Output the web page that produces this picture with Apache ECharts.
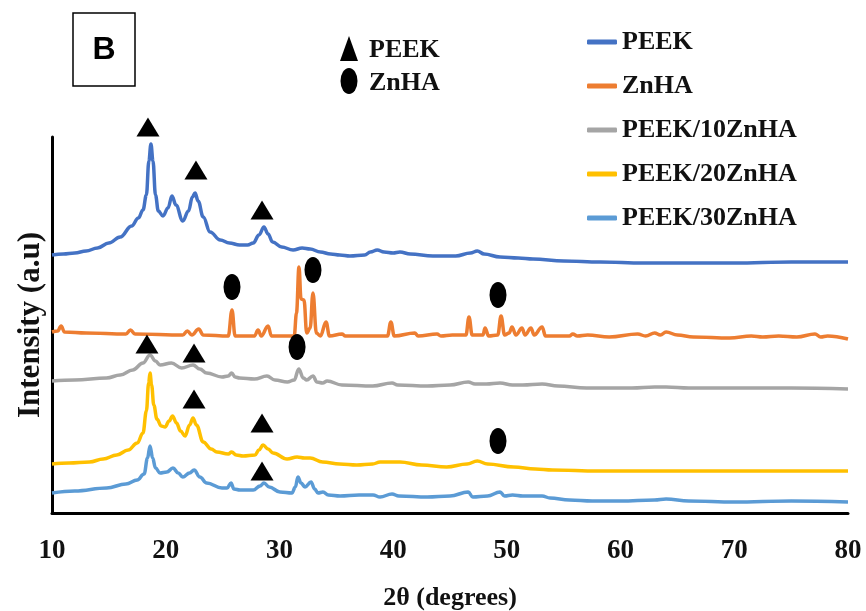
<!DOCTYPE html>
<html>
<head>
<meta charset="utf-8">
<script src="https://cdn.jsdelivr.net/npm/echarts@6/dist/echarts.min.js"></script>
<style>
html,body{margin:0;padding:0;background:#fff;}
#chart{width:866px;height:611px;}
</style>
</head>
<body>
<div id="chart"></div>
<script>
// ---- tick labels (2θ, degrees) ----
const xTicks = [10, 20, 30, 40, 50, 60, 70, 80];

// ---- series names ----
const seriesNames = ['PEEK', 'ZnHA', 'PEEK/10ZnHA', 'PEEK/20ZnHA', 'PEEK/30ZnHA'];

// ---- XRD patterns: [2θ, intensity (a.u., stacked offsets)] ----
const peek = [
  [10,258],[11,259],[12,260],[13,262],[14,265],[15,270],[16,276],[17,287],[17.6,295],[18.0,303],
  [18.3,318],[18.52,352],[18.7,369],[18.88,352],[19.1,318],[19.35,302],[19.76,297],[20.2,305],
  [20.55,317],[20.9,308],[21.5,292],[22.0,302],[22.35,316],[22.58,320],[22.85,312],[23.3,296],
  [23.9,281],[24.8,273],[25.6,270],[26.5,268],[27.2,268],[27.7,270],[28.2,278],[28.64,286],
  [29.0,279],[29.4,271],[30.2,266],[31.2,263],[32.0,265],[32.7,264],[33.6,261],[34.5,259],
  [35.3,258],[36.2,257],[37.5,258],[38.0,261],[38.6,263],[39.2,261],[40.0,260],[40.6,261],
  [41.5,259],[43.5,257],[45.5,257],[46.8,260],[47.4,262],[48.0,259],[49.4,256],[51,255],
  [52.3,254],[55,252],[58.2,251],[62,250],[66,250],[70,250],[75,251],[80,251]
];
const znha = [
  [10,181],[10.5,182],[10.8,187],[11.1,181],[13,180],[16.5,179],[16.9,183],[17.3,179],[21.5,178],
  [21.9,182],[22.3,178],[22.9,184],[23.3,178],[25.5,177],[25.83,203],[26.1,177],[27.8,177],
  [28.12,183],[28.4,177],[29.0,187],[29.3,177],[31.3,177],[31.5,200],[31.72,246],[31.9,214],
  [32.16,213],[32.4,180],[32.7,185],[32.95,220],[33.25,180],[33.6,177],[34.1,191],[34.4,177],
  [35.5,179],[35.8,177],[37.5,177],[39.5,177],[39.8,191],[40.1,177],[41.9,180],[42.2,177],
  [43.86,179],[44.2,177],[45.2,178],[46.4,178],[46.67,196],[46.95,178],[47.9,178],[48.08,185],
  [48.4,177],[49.2,178],[49.49,197],[49.8,178],[50.2,180],[50.45,186],[50.8,178],[51.33,185],
  [51.6,178],[52.12,185],[52.4,178],[53.1,186],[53.4,177],[55.5,177],[55.8,179],[56.2,177],
  [57.1,178],[59,176],[61.5,179],[62.2,177],[63,180],[63.5,178],[64,181],[65,178],[66.4,176],
  [69.6,175],[71.5,177],[72.5,176],[73.9,177],[75.5,176],[77.1,179],[77.6,176],[78.2,177],[80,174]
];
const peek10 = [
  [10,132],[12,133],[14.8,135],[16,138],[17.1,143],[18.0,150],[18.62,158],[19.1,152],[19.5,148],
  [20.5,150],[21.4,145],[22.4,148],[23.0,144],[23.6,140],[24.95,136],[25.5,137],[25.8,140],
  [26.1,136],[26.5,135],[27.8,134],[28.9,137],[29.6,133],[30.7,131],[31.3,133],[31.7,144],
  [32.1,135],[32.4,133],[32.95,137],[33.3,131],[33.8,130],[34.2,132],[35.5,128],[38.2,127],
  [39.9,130],[40.4,128],[43,127],[45,128],[46.6,131],[47.2,129],[48.2,129],[49.4,130],[50.5,128],
  [51.4,128],[53.1,129],[54.5,127],[57,125],[61,125],[63,126],[64,126],[66,125],[70,125],[75,125],[80,124]
];
const peek20 = [
  [10,49],[11.5,50],[13.3,51],[14.5,54],[15.7,58],[16.7,63],[17.5,70],[18.0,80],[18.3,102],
  [18.5,130],[18.62,140],[18.76,128],[18.95,108],[19.23,94],[19.6,87],[19.94,86],[20.3,92],
  [20.6,97],[20.95,90],[21.3,82],[21.7,77],[22.1,88],[22.4,95],[22.7,88],[23.3,71],[24.0,64],
  [24.5,61],[25.5,59],[25.8,61],[26.2,58],[26.8,57],[27.85,58],[28.2,63],[28.56,68],[29.0,64],
  [29.44,60],[30.67,54],[31.55,56],[32.2,55],[32.7,55],[33.8,51],[35.3,49],[36.8,48],[38.2,49],
  [38.85,51],[40.6,51],[42.5,48],[44.7,46],[46.5,49],[47.4,52],[48.3,49],[50.6,46],[52.5,44],
  [54,43],[58,42],[62,42],[66,42],[70,42],[75,42],[80,42]
];
const peek30 = [
  [10,20],[12,22],[14.8,25],[16.5,29],[17.5,33],[18.1,39],[18.4,55],[18.62,67],[18.85,55],
  [19.1,45],[19.5,40],[20.1,41],[20.64,45],[21.1,40],[21.5,36],[22.1,40],[22.5,43],[23.0,36],
  [23.6,30],[24.95,25],[25.4,25],[25.74,30],[26.0,24],[26.53,23],[27.7,23],[28.3,27],[28.64,30],
  [29.1,26],[30.05,21],[31.1,20],[31.4,26],[31.63,36],[31.9,30],[32.25,26],[32.78,31],[33.1,24],
  [33.39,20],[33.83,21],[34.3,18],[35.33,17],[37,18],[38.23,18],[38.85,16],[39.9,19],[40.5,17],
  [43,16],[45,17],[46.6,21],[47.0,16],[48.3,17],[49.4,21],[49.8,17],[50.5,18],[51.4,17],[53.1,17],
  [53.8,15],[55.5,13],[57.5,12],[60,12],[63,13],[64,14],[66,12],[70,11],[75,12],[80,11]
];

// ---- peak markers: [2θ, intensity] ----
const peekMarks = [
  [18.44,386],[22.66,343],[28.47,303],
  [18.35,169],[22.49,160],
  [22.49,114],[28.47,90],
  [28.47,42]
];
const znhaMarks = [
  [25.83,226],[32.95,243],[49.22,218],
  [31.55,166],
  [49.22,72]
];

const colors = ['#4472C4', '#ED7D31', '#A5A5A5', '#FFC000', '#5B9BD5'];
const patterns = [peek, znha, peek10, peek20, peek30];

const serif = '"Liberation Serif", "Times New Roman", serif';

const chart = echarts.init(document.getElementById('chart'), null, {renderer: 'canvas'});

const lineSeries = patterns.map((d, i) => ({
  name: seriesNames[i],
  type: 'line',
  data: d,
  showSymbol: false,
  symbol: 'none',
  smooth: 0.4,
  smoothMonotone: 'x',
  lineStyle: {color: colors[i], width: 3.5},
  itemStyle: {color: colors[i]},
  z: 2
}));

const option = {
  animation: false,
  backgroundColor: '#fff',
  grid: {left: 52, right: 18, top: 137, bottom: 98, containLabel: false, outerBoundsMode: 'none'},
  xAxis: {
    type: 'value',
    min: xTicks[0],
    max: xTicks[xTicks.length - 1],
    interval: xTicks[1] - xTicks[0],
    axisLine: {show: true, onZero: true, lineStyle: {color: '#000', width: 3}},
    axisTick: {show: false},
    splitLine: {show: false},
    axisLabel: {
      color: '#111', fontFamily: serif, fontWeight: 'bold', fontSize: 27, margin: 25,
      formatter: v => xTicks.includes(v) ? String(v) : ''
    },
    name: '2θ (degrees)',
    nameLocation: 'middle',
    nameGap: 72,
    nameTextStyle: {color: '#111', fontFamily: serif, fontWeight: 'bold', fontSize: 26}
  },
  yAxis: {
    type: 'value',
    min: 0,
    max: 376,
    axisLine: {show: true, lineStyle: {color: '#000', width: 3}},
    axisTick: {show: false},
    axisLabel: {show: false},
    splitLine: {show: false},
    name: 'Intensity (a.u)',
    nameLocation: 'middle',
    nameGap: 6,
    nameTextStyle: {color: '#111', fontFamily: serif, fontWeight: 'bold', fontSize: 31}
  },
  legend: {
    data: seriesNames,
    orient: 'vertical',
    left: 582,
    top: 24,
    itemWidth: 30,
    itemHeight: 5,
    itemGap: 18,
    icon: 'roundRect',
    textStyle: {color: '#111', fontFamily: serif, fontWeight: 'bold', fontSize: 26}
  },
  graphic: [
    {type: 'rect', shape: {x: 73, y: 13, width: 62, height: 73},
      style: {fill: '#fff', stroke: '#000', lineWidth: 1.5}},
    {type: 'text', x: 104, y: 50,
      style: {text: 'B', fill: '#000', font: 'bold 32px "Liberation Sans", Arial, sans-serif',
        align: 'center', verticalAlign: 'middle'}},
    {type: 'polygon', shape: {points: [[340, 61], [349, 36], [358, 61]]}, style: {fill: '#000'}},
    {type: 'circle', x: 349, y: 81, scaleX: 8.5 / 13, scaleY: 1, shape: {cx: 0, cy: 0, r: 13},
      style: {fill: '#000'}},
    {type: 'text', x: 369, y: 50,
      style: {text: 'PEEK', fill: '#111', font: 'bold 26px ' + serif, verticalAlign: 'middle'}},
    {type: 'text', x: 369, y: 83,
      style: {text: 'ZnHA', fill: '#111', font: 'bold 26px ' + serif, verticalAlign: 'middle'}}
  ],
  series: lineSeries.concat([
    {
      name: 'PEEK peaks', type: 'scatter', data: peekMarks, clip: false,
      symbol: 'triangle', symbolSize: [23, 19],
      itemStyle: {color: '#000', opacity: 1}, z: 5, silent: true
    },
    {
      name: 'ZnHA peaks', type: 'scatter', data: znhaMarks, clip: false,
      symbol: 'circle', symbolSize: [17, 26],
      itemStyle: {color: '#000', opacity: 1}, z: 5, silent: true
    }
  ])
};

chart.setOption(option);
</script>
</body>
</html>
